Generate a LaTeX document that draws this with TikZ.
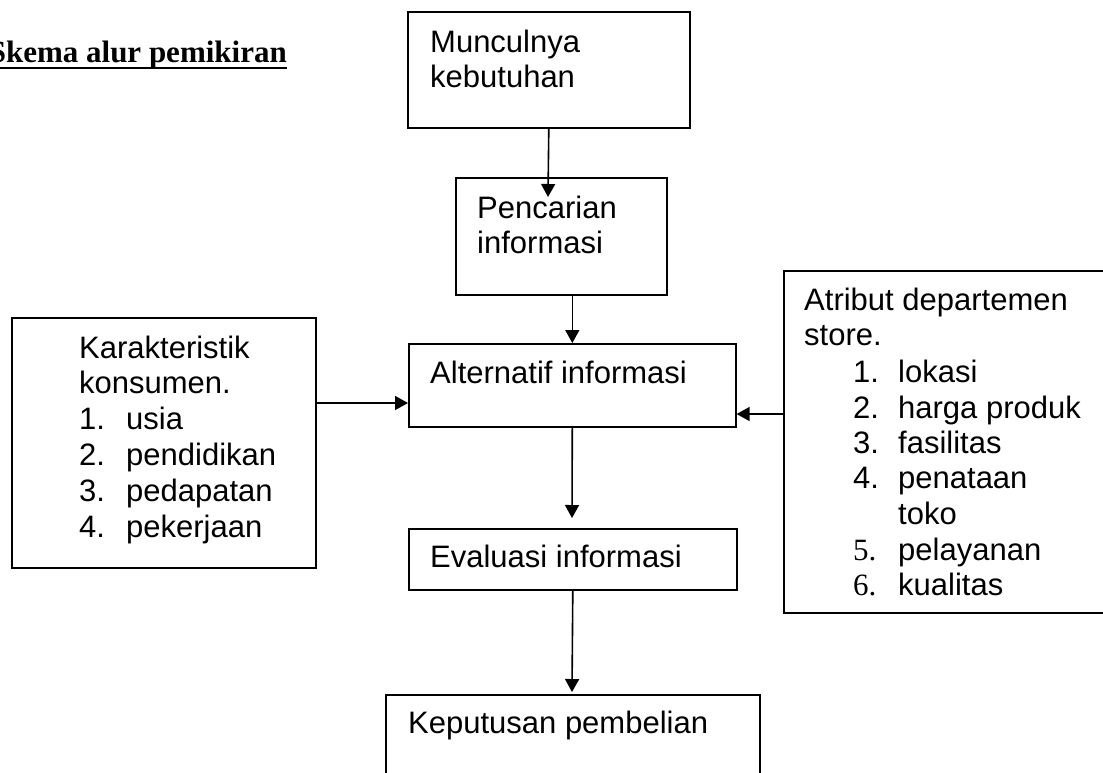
\documentclass[tikz,border=0pt]{standalone}
\usepackage{fontspec}
\setmainfont{Liberation Sans}
\newfontfamily\timesf{Liberation Serif}
\usetikzlibrary{arrows.meta}
\tikzset{
  box/.style={draw=black, line width=1.6pt, inner sep=0pt, anchor=north west},
  txt/.style={anchor=base west, inner sep=0pt, font=\fontsize{31}{36}\selectfont},
  arr/.style={-{Triangle[length=13pt,width=14pt]}, line width=1.6pt},
}
\begin{document}
\begin{tikzpicture}[x=1pt,y=-1pt]
\useasboundingbox (0,0) rectangle (1103,772);
% title
\node[anchor=base east, inner sep=0pt, font=\timesf\bfseries\fontsize{31}{36}\selectfont] (title) at (287,62) {Skema alur pemikiran};
\draw[line width=2pt] ([yshift=-6pt]title.base west) -- ([yshift=-6pt]title.base east);
% boxes
\node[box, minimum width=282pt, minimum height=116pt] (m) at (407,11) {};
\node[box, minimum width=211pt, minimum height=117pt] (p) at (455,177) {};
\node[box, minimum width=327pt, minimum height=83pt] (a) at (408,343) {};
\node[box, minimum width=304pt, minimum height=250pt] (k) at (11,317) {};
\node[box, minimum width=330pt, minimum height=342pt] (t) at (783,270) {};
\node[box, minimum width=328pt, minimum height=61pt] (e) at (408,528) {};
\node[box, minimum width=374pt, minimum height=100pt] (kp) at (385,694) {};
% texts
\node[txt] (m1) at (430,52) {Munculnya};
\node[txt] (m2) at (430,87) {kebutuhan};
\node[txt] (p1) at (477,218) {Pencarian};
\node[txt] (p2) at (477,253) {informasi};
\node[txt] (a1) at (430,383) {Alternatif informasi};
\node[txt] (e1) at (430,567) {Evaluasi informasi};
\node[txt] (kp1) at (408,733) {Keputusan pembelian};
\node[txt] (k1) at (79,358) {Karakteristik};
\node[txt] (k2) at (79,393) {konsumen.};
\node[txt] (k3) at (79,429) {\makebox[47pt][l]{1.}usia};
\node[txt] (k4) at (79,465) {\makebox[47pt][l]{2.}pendidikan};
\node[txt] (k5) at (79,501) {\makebox[47pt][l]{3.}pedapatan};
\node[txt] (k6) at (79,537) {\makebox[47pt][l]{4.}pekerjaan};
\node[txt] (t1) at (804,310) {Atribut departemen};
\node[txt] (t2) at (804,345) {store.};
\node[txt] (t3) at (853,382) {\makebox[45pt][l]{1.}lokasi};
\node[txt] (t4) at (853,418) {\makebox[45pt][l]{2.}harga produk};
\node[txt] (t5) at (853,453) {\makebox[45pt][l]{3.}fasilitas};
\node[txt] (t6) at (853,488) {\makebox[45pt][l]{4.}penataan};
\node[txt] (t7) at (898,524) {toko};
\node[txt] (t8) at (853,560) {\makebox[45pt][l]{\timesf 5.}pelayanan};
\node[txt] (t9) at (853,595) {\makebox[45pt][l]{\timesf 6.}kualitas};
% connectors
\coordinate (c1) at (548,197);
\coordinate (c2) at (572,518);
\coordinate (c3) at (572,692);
\draw[arr] (m.south) -- (c1);
\draw[arr] (p.south -| a.south) -- (a.north);
\draw[arr] (a.south) -- (c2);
\draw[arr] (e.south) -- (c3);
\draw[arr] (k.east |- 0,403) -- (a.west |- 0,403);
\draw[arr] (t.west |- 0,414) -- (a.east |- 0,414);
\end{tikzpicture}
\end{document}
